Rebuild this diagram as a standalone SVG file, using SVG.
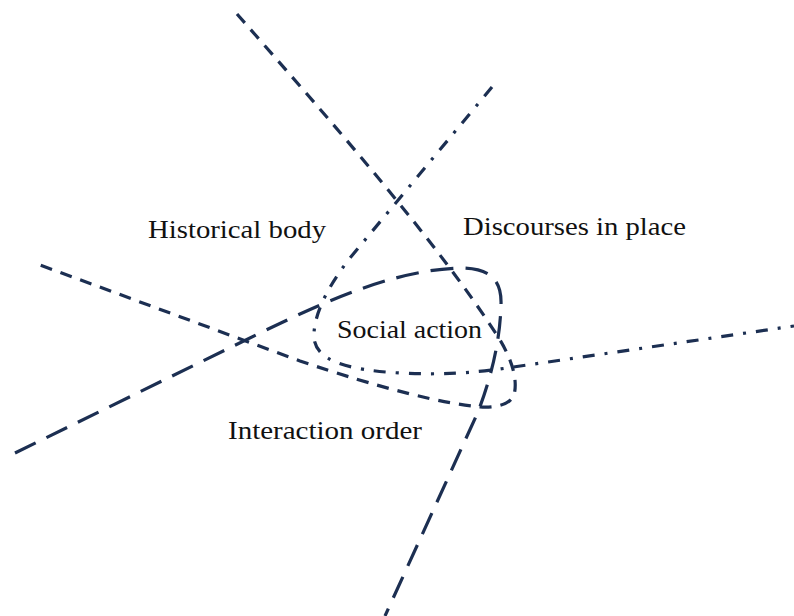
<svg xmlns="http://www.w3.org/2000/svg" width="794" height="616" viewBox="0 0 794 616">
<style>
.ln{fill:none;stroke:#1c2f52;stroke-width:3.2}
.short{stroke-dasharray:12 9}
.long{stroke-dasharray:23 12}
.dd{stroke-dasharray:12 10 3 10}
.lbl{font-family:"Liberation Serif","Times New Roman",serif;font-size:26px;fill:#111}
</style>
<rect width="794" height="616" fill="#fff"/>
<g id="connectors">
<path id="discourses-line" class="ln short" d="M237,14 C330,120 440,245 500,340 C512,360 518,380 514,395 C510,405 495,408 480,407 C440,403 380,388 300,361 L40,265"/>
<path id="interaction-line" class="ln long" d="M15,453 L260,333 C340,294 400,270 460,268 C490,268 502,280 501,305 C500,340 492,375 478,412 L385,616"/>
<path id="historical-line" class="ln dd" d="M492,87 L350,258 C325,290 313,318 314,338 C316,360 345,370 400,373 C440,375 470,373 500,369 L794,326"/>
</g>
<g id="historical-body"><text class="lbl" x="148" y="238" textLength="178" lengthAdjust="spacingAndGlyphs">Historical body</text></g>
<g id="discourses-in-place"><text class="lbl" x="463" y="235" textLength="223" lengthAdjust="spacingAndGlyphs">Discourses in place</text></g>
<g id="social-action"><text class="lbl" x="337" y="338" textLength="145" lengthAdjust="spacingAndGlyphs">Social action</text></g>
<g id="interaction-order"><text class="lbl" x="228" y="439" textLength="194" lengthAdjust="spacingAndGlyphs">Interaction order</text></g>
</svg>
